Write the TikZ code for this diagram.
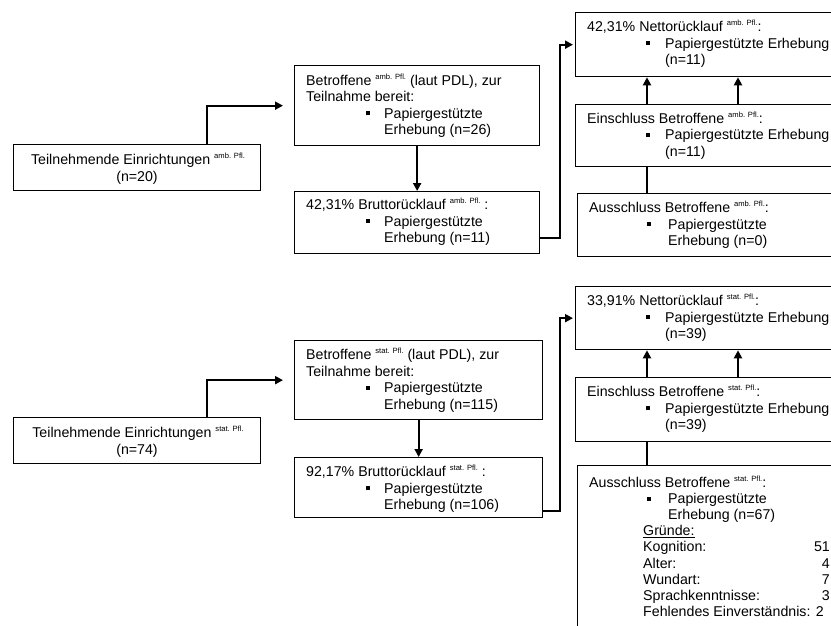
\documentclass[tikz,border=0pt]{standalone}
\usepackage{fontspec}
\setmainfont{Liberation Sans}
\usetikzlibrary{arrows.meta,calc}
\newcommand\hsup[1]{\raisebox{0.42em}{\fontsize{7.6}{8}\selectfont #1}}
\newcommand\sqb{\rule[2.6pt]{4pt}{4pt}}
\begin{document}
\begin{tikzpicture}[x=1pt,y=-1pt,
  box/.style={draw, line width=1.3pt, rectangle, inner sep=0pt, anchor=north west},
  txt/.style={anchor=base west, inner sep=0pt, font=\fontsize{14.2}{16.5}\selectfont},
  ctxt/.style={anchor=base, inner sep=0pt, font=\fontsize{14.2}{16.5}\selectfont},
  rtxt/.style={anchor=base east, inner sep=0pt, font=\fontsize{14.2}{16.5}\selectfont},
  bul/.style={anchor=base west, inner sep=0pt},
  conn/.style={line width=2pt, -{Triangle[length=8pt,width=8pt]}},
  plainline/.style={line width=2pt}]
\useasboundingbox (0,0) rectangle (831,625);
\clip (0,0) rectangle (831,625);
\fill[white] (0,0) rectangle (831,625);

% ---------- boxes, amb. ----------
\node[box, minimum width=247pt, minimum height=46pt] (ta) at (13,144) {};
\node[box, minimum width=245pt, minimum height=80pt] (ba) at (294,65) {};
\node[box, minimum width=245pt, minimum height=62pt] (bra) at (294,191) {};
\node[box, minimum width=285pt, minimum height=64pt] (na) at (575,12) {};
\node[box, minimum width=285pt, minimum height=62pt] (ea) at (575,104) {};
\node[box, minimum width=283pt, minimum height=63pt] (aa) at (577,193) {};
% ---------- boxes, stat. ----------
\node[box, minimum width=247pt, minimum height=46pt] (ts) at (13,417) {};
\node[box, minimum width=248pt, minimum height=79pt] (bs) at (294,340) {};
\node[box, minimum width=248pt, minimum height=60pt] (brs) at (294,457) {};
\node[box, minimum width=285pt, minimum height=63pt] (ns) at (575,286) {};
\node[box, minimum width=285pt, minimum height=64pt] (es) at (575,377) {};
\node[box, minimum width=283pt, minimum height=180pt] (as) at (577,465) {};

% ---------- texts amb. ----------
\node[ctxt] (ta1) at (138,164) {Teilnehmende Einrichtungen \hsup{amb. Pfl.}};
\node[ctxt] (ta2) at (137,181) {(n=20)};

\node[txt] (ba1) at (306,85) {Betroffene \hsup{amb. Pfl.} (laut PDL), zur};
\node[txt] (ba2) at (306,101.5) {Teilnahme bereit:};
\node[bul] (ba3) at (366,118) {\sqb};
\node[txt] (ba4) at (384,118) {Papiergestützte};
\node[txt] (ba5) at (384,134.5) {Erhebung (n=26)};

\node[txt] (bra1) at (306,209.5) {42,31\% Bruttorücklauf \hsup{amb. Pfl.} :};
\node[bul] (bra2) at (366,226) {\sqb};
\node[txt] (bra3) at (384,226) {Papiergestützte};
\node[txt] (bra4) at (384,242.5) {Erhebung (n=11)};

\node[txt] (na1) at (587,31.5) {42,31\% Nettorücklauf \hsup{amb. Pfl.}:};
\node[bul] (na2) at (646,48) {\sqb};
\node[txt] (na3) at (665,48) {Papiergestützte Erhebung};
\node[txt] (na4) at (665,64.5) {(n=11)};

\node[txt] (ea1) at (587,123) {Einschluss Betroffene \hsup{amb. Pfl.}:};
\node[bul] (ea2) at (646,139.5) {\sqb};
\node[txt] (ea3) at (665,139.5) {Papiergestützte Erhebung};
\node[txt] (ea4) at (665,156) {(n=11)};

\node[txt] (aa1) at (589,212.5) {Ausschluss Betroffene \hsup{amb. Pfl.}:};
\node[bul] (aa2) at (647,229) {\sqb};
\node[txt] (aa3) at (668,229) {Papiergestützte};
\node[txt] (aa4) at (668,245.5) {Erhebung (n=0)};

% ---------- texts stat. ----------
\node[ctxt] (ts1) at (138,437) {Teilnehmende Einrichtungen \hsup{stat. Pfl.}};
\node[ctxt] (ts2) at (137,454) {(n=74)};

\node[txt] (bs1) at (306,359.5) {Betroffene \hsup{stat. Pfl.} (laut PDL), zur};
\node[txt] (bs2) at (306,376) {Teilnahme bereit:};
\node[bul] (bs3) at (366,392.5) {\sqb};
\node[txt] (bs4) at (384,392.5) {Papiergestützte};
\node[txt] (bs5) at (384,409) {Erhebung (n=115)};

\node[txt] (brs1) at (306,476) {92,17\% Bruttorücklauf \hsup{stat. Pfl.} :};
\node[bul] (brs2) at (366,493) {\sqb};
\node[txt] (brs3) at (384,493) {Papiergestützte};
\node[txt] (brs4) at (384,509.5) {Erhebung (n=106)};

\node[txt] (ns1) at (587,305.5) {33,91\% Nettorücklauf \hsup{stat. Pfl.}:};
\node[bul] (ns2) at (646,322) {\sqb};
\node[txt] (ns3) at (665,322) {Papiergestützte Erhebung};
\node[txt] (ns4) at (665,338.5) {(n=39)};

\node[txt] (es1) at (587,396.5) {Einschluss Betroffene \hsup{stat. Pfl.}:};
\node[bul] (es2) at (646,413) {\sqb};
\node[txt] (es3) at (665,413) {Papiergestützte Erhebung};
\node[txt] (es4) at (665,429.5) {(n=39)};

\node[txt] (as1) at (589,487) {Ausschluss Betroffene \hsup{stat. Pfl.}:};
\node[bul] (as2) at (647,503.2) {\sqb};
\node[txt] (as3) at (668,503.2) {Papiergestützte};
\node[txt] (as4) at (668,519.4) {Erhebung (n=67)};
\node[txt] (as5) at (643,535.6) {\underline{Gründe:}};
\node[txt] (as6) at (643,551.8) {Kognition:};
\node[rtxt] (as6n) at (830,551.8) {51};
\node[txt] (as7) at (643,568) {Alter:};
\node[rtxt] (as7n) at (830,568) {4};
\node[txt] (as8) at (643,584.2) {Wundart:};
\node[rtxt] (as8n) at (830,584.2) {7};
\node[txt] (as9) at (643,600.4) {Sprachkenntnisse:};
\node[rtxt] (as9n) at (830,600.4) {3};
\node[txt] (as10) at (643,616.6) {Fehlendes Einverständnis: 2};

% ---------- connectors amb. ----------
\draw[conn, shorten >=11pt] (207,0 |- ta.north) |- (ba.west);
\draw[conn] (ba.south) -- (bra.north);
\draw[conn, shorten >=2pt] (bra.east |- 0,238) -| (560,0 |- na.west) -- (na.west);
\draw[conn] (647,0 |- ea.north) -- (647,0 |- na.south);
\draw[conn] (738,0 |- ea.north) -- (738,0 |- na.south);
\draw[plainline] (647,0 |- aa.north) -- (647,0 |- ea.south);

% ---------- connectors stat. ----------
\draw[conn, shorten >=11pt] (207,0 |- ts.north) |- (bs.west);
\draw[conn] (bs.south) -- (brs.north);
\draw[conn, shorten >=2pt] (brs.east |- 0,511) -| (560,0 |- ns.west) -- (ns.west);
\draw[conn] (647,0 |- es.north) -- (647,0 |- ns.south);
\draw[conn] (738,0 |- es.north) -- (738,0 |- ns.south);
\draw[plainline] (647,0 |- as.north) -- (647,0 |- es.south);
\end{tikzpicture}
\end{document}
